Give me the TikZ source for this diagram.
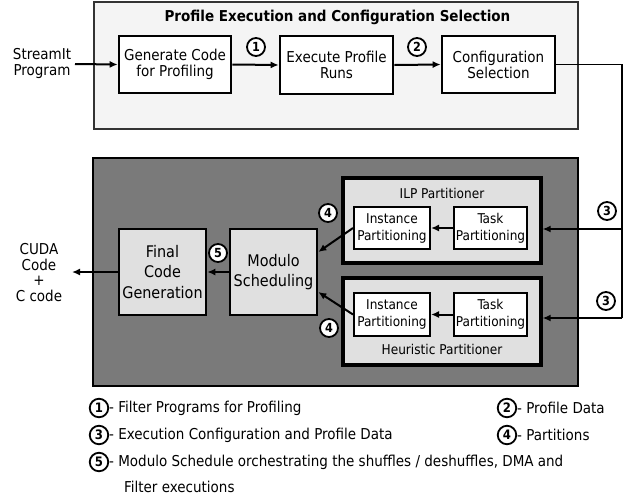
\documentclass[tikz,border=0pt]{standalone}
\usepackage{fontspec}
\setmainfont{DejaVu Sans Condensed}
\usetikzlibrary{arrows.meta}
\definecolor{topfill}{HTML}{F4F4F4}
\definecolor{topdraw}{HTML}{333333}
\definecolor{darkfill}{HTML}{7A7A7A}
\definecolor{lightfill}{HTML}{E0E0E0}
\begin{document}
\begin{tikzpicture}[x=1pt,y=-1pt,
  txt/.style={font=\fontsize{15}{16}\selectfont, align=center, inner sep=0pt},
  wbox/.style={draw=black, fill=white, line width=2.6pt, align=center, inner sep=0pt, font=\fontsize{15}{16}\selectfont},
  pbox/.style={draw=black, fill=white, line width=2pt, align=center, inner sep=0pt, minimum width=76, minimum height=42, font=\fontsize{13.5}{17}\selectfont},
  gbox/.style={draw=black, fill=lightfill, line width=2.6pt, align=center, inner sep=0pt, minimum width=87, minimum height=86, font=\fontsize{16}{20.5}\selectfont},
  partbox/.style={draw=black, fill=lightfill, line width=3.2pt, inner sep=0pt, minimum width=198},
  num/.style={circle, draw=black, fill=white, line width=1.8pt, inner sep=0pt, minimum size=18, font=\fontsize{12.5}{13}\selectfont\bfseries},
  lnum/.style={circle, draw=black, fill=white, line width=1.8pt, inner sep=0pt, minimum size=18.5, font=\fontsize{13}{13}\selectfont\bfseries},
  leg/.style={anchor=west, inner sep=0pt, font=\fontsize{15}{25}\selectfont, align=left},
  conn/.style={line width=2pt, -{Latex[length=8pt,width=7pt]}},
  wire/.style={line width=1.5pt}
]
\useasboundingbox (0,0) rectangle (629,496);

% top frame
\node[draw=topdraw, fill=topfill, line width=1.5pt, minimum width=484, minimum height=127, inner sep=0pt] (topbox) at (336,65.5) {};
\node[font=\fontsize{15}{16}\selectfont\bfseries, inner sep=0pt] (title) at (337.5,17) {Profile Execution and Configuration Selection};

\node[wbox, minimum width=112, minimum height=57] (gen) at (175,64.5) {Generate Code\\for Profiling};
\node[wbox, minimum width=113, minimum height=58] (exe) at (336.5,65) {Execute Profile\\Runs};
\node[wbox, minimum width=113, minimum height=57] (cfg) at (498.5,64.5) {Configuration\\Selection};

\node[txt] (stream) at (42,63) {StreamIt\\Program};
\coordinate (streamout) at (75,64);

\node[num] (c1) at (256,47) {1};
\node[num] (c2) at (417,47) {2};

% bottom frame
\node[draw=black, fill=darkfill, line width=2pt, minimum width=485, minimum height=228, inner sep=0pt] (botbox) at (335.5,272) {};

\node[partbox, minimum height=85] (ilp) at (442,220.5) {};
\node[font=\fontsize{13.5}{16}\selectfont, inner sep=0pt] (ilpt) at (442,193) {ILP Partitioner};
\node[pbox] (ilpinst) at (392,228) {Instance\\Partitioning};
\node[pbox, minimum width=73] (ilptask) at (490.5,228) {Task\\Partitioning};

\node[partbox, minimum height=87] (heur) at (442,321.5) {};
\node[font=\fontsize{13.5}{16}\selectfont, inner sep=0pt] (heurt) at (442,349) {Heuristic Partitioner};
\node[pbox, minimum height=43] (hinst) at (392,314.5) {Instance\\Partitioning};
\node[pbox, minimum width=73, minimum height=43] (htask) at (490.5,314.5) {Task\\Partitioning};

\node[gbox] (mod) at (273.5,272) {Modulo\\Scheduling};
\node[gbox] (fin) at (162.5,272) {Final\\Code\\Generation};

\node[txt, font=\fontsize{15}{15.7}\selectfont] (cuda) at (39,272.5) {CUDA\\Code\\+\\C code};
\coordinate (cudain) at (72,272);

\node[num] (c5) at (218,253) {5};
\node[num] (c4a) at (328,213) {4};
\node[num] (c4b) at (329,328) {4};
\node[num] (c3a) at (607,211) {3};
\node[num] (c3b) at (606,301) {3};

% connectors top
\draw[conn] (streamout) -- (gen.west);
\draw[conn] (gen.east) -- (exe.west);
\draw[conn] (exe.east) -- (cfg.west);

\coordinate (ra) at (622,229);
\coordinate (rb) at (622,318);
\draw[wire] (cfg.east) -| (rb);
\draw[conn] (ra) -- (ra -| ilp.east);
\draw[conn] (rb) -- (rb -| heur.east);

\draw[conn] (ilptask.west) -- (ilpinst.east);
\draw[conn] (htask.west) -- (hinst.east);
\draw[conn] (ilpinst.west) -- ([yshift=20pt]mod.east);
\draw[conn] (hinst.west) -- ([yshift=-20pt]mod.east);
\draw[conn] (mod.west) -- (fin.east);
\draw[conn] (fin.west) -- (cudain);

% legend
\node[lnum] (l1) at (99,408) {1};
\node[leg] (l1t) at (109,408) {- Filter Programs for Profiling};
\node[lnum] (l2) at (507,408) {2};
\node[leg] (l2t) at (517,408) {- Profile Data};
\node[lnum] (l3) at (99,435) {3};
\node[leg] (l3t) at (109,435) {- Execution Configuration and Profile Data};
\node[lnum] (l4) at (507,435) {4};
\node[leg] (l4t) at (517,435) {- Partitions};
\node[lnum] (l5) at (99,462) {5};
\node[leg] (l5t) at (109,462) {- Modulo Schedule orchestrating the shuffles / deshuffles, DMA and};
\node[leg] (l5u) at (124,487) {Filter executions};
\end{tikzpicture}
\end{document}
